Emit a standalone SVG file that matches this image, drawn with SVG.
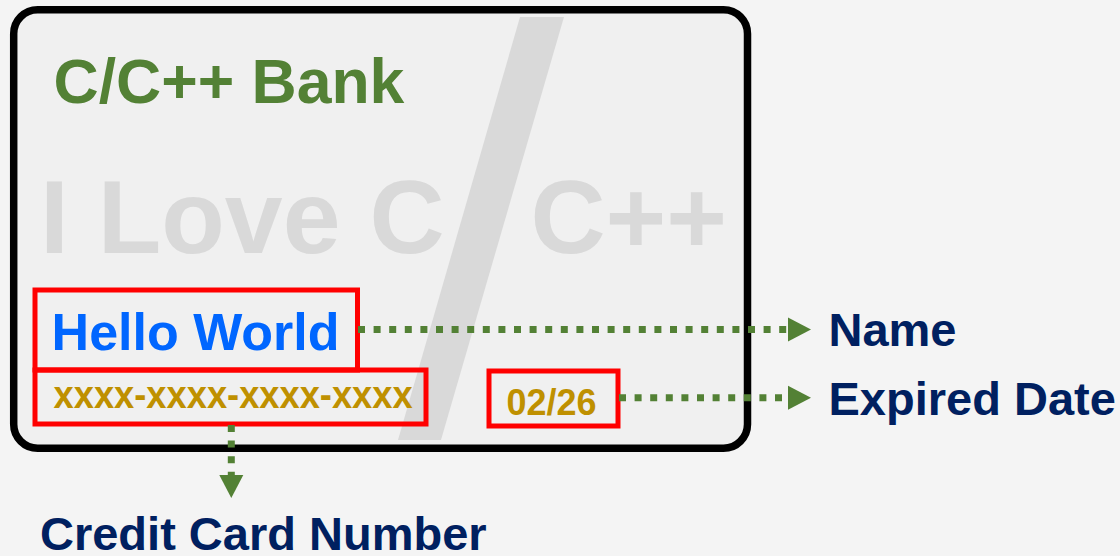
<svg xmlns="http://www.w3.org/2000/svg" width="1120" height="556" viewBox="0 0 1120 556">
  <style>
    text { font-family: "Liberation Sans", Arial, sans-serif; font-weight: bold; }
    .field { fill: none; stroke: #ff0000; stroke-width: 5; }
    .link { fill: none; stroke: #538135; stroke-width: 7; stroke-dasharray: 7 8.6; }
    .mark { fill: #d9d9d9; }
    .label { fill: #002060; font-size: 47px; }
    .gold { fill: #bf9000; }
  </style>
  <defs>
    <marker id="arrow" markerUnits="userSpaceOnUse" markerWidth="24" markerHeight="26" refX="0" refY="12" orient="auto" viewBox="0 0 24 24">
      <path d="M0,0 L23,12 L0,24 Z" fill="#538135"/>
    </marker>
  </defs>

  <rect width="1120" height="556" fill="#f4f4f4"/>

  <!-- card body with watermark -->
  <g id="card">
    <rect x="13.7" y="9.7" width="733.8" height="438.6" rx="24" ry="24" fill="#f0f0f0" stroke="#000000" stroke-width="7.5"/>
    <polygon class="mark" points="520,17 564,17 441,440 398,440"/>
    <text class="mark" x="40" y="253" font-size="104">I Love C</text>
    <text class="mark" x="530.5" y="253" font-size="104">C++</text>
    <text x="53.5" y="103" font-size="62.5" fill="#538135">C/C++ Bank</text>
  </g>

  <g id="holder-name">
    <rect class="field" x="35" y="290" width="322.5" height="80"/>
    <text x="51.6" y="350" font-size="52" fill="#0066ff">Hello World</text>
  </g>

  <g id="card-number">
    <rect class="field" x="35" y="370" width="391" height="54"/>
    <text class="gold" x="53.6" y="407.5" font-size="38" textLength="359" lengthAdjust="spacingAndGlyphs">xxxx-xxxx-xxxx-xxxx</text>
  </g>

  <g id="expiry">
    <rect class="field" x="489" y="371" width="129" height="55"/>
    <text class="gold" x="506.5" y="415" font-size="37" textLength="90" lengthAdjust="spacingAndGlyphs">02/26</text>
  </g>

  <!-- dotted leader lines -->
  <g id="connectors">
    <path class="link" d="M358,329.6 H788" marker-end="url(#arrow)"/>
    <path class="link" d="M619,397.8 H788" marker-end="url(#arrow)"/>
    <path class="link" d="M231.3,425 V475" marker-end="url(#arrow)"/>
  </g>

  <g id="label-name">
    <text class="label" x="828.5" y="346">Name</text>
  </g>
  <g id="label-expired">
    <text class="label" x="828.5" y="414.5">Expired Date</text>
  </g>
  <g id="label-number">
    <text class="label" x="40" y="550">Credit Card Number</text>
  </g>
</svg>
